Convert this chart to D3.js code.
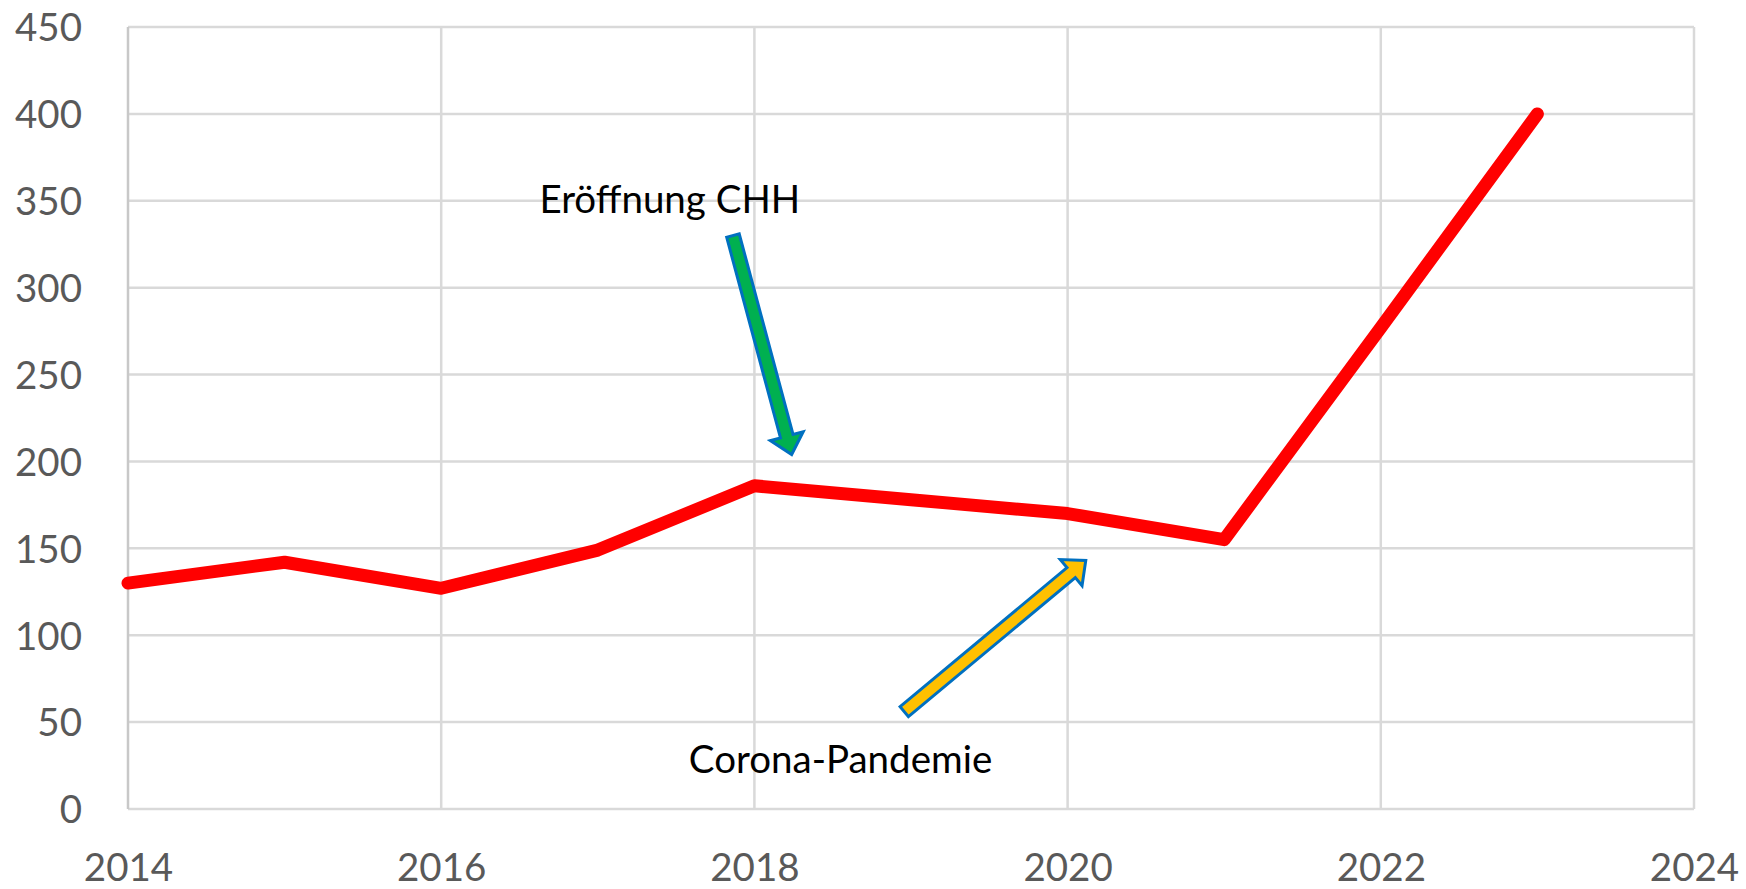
<!DOCTYPE html>
<html>
<head>
<meta charset="utf-8">
<script src="https://cdn.jsdelivr.net/npm/d3@7"></script>
<style>
  body { margin: 0; background: #fff; }
  svg { display: block; }
  .tick text { font-family: Lato, "Open Sans", sans-serif; fill: #595959; }
  .note { font-family: Lato, "Open Sans", sans-serif; fill: #000; }
</style>
</head>
<body>
<svg width="1746" height="889"></svg>
<script>
var svg = d3.select("svg"),
  width = +svg.attr("width"),
  height = +svg.attr("height");

// values
var years = [2014, 2015, 2016, 2017, 2018, 2019, 2020, 2021, 2022, 2023];
var values = [130, 142, 127, 149, 186, 178, 170, 155, 277, 400];

var xTicks = [2014, 2016, 2018, 2020, 2022, 2024];
var yTicks = [0, 50, 100, 150, 200, 250, 300, 350, 400, 450];

// annotations: text and arrow endpoints in data units [year, value]
var noteTexts = ["Eröffnung CHH", "Corona-Pandemie"];
var notePos = [[2017.46, 343], [2018.55, 21]];
var arrowFrom = [[2017.863, 330], [2018.957, 56]];
var arrowTo = [[2018.238, 204], [2020.116, 143]];
var arrowFill = ["#00B050", "#FFC000"];

var x = d3.scaleLinear().domain([2014, 2024]).range([128, 1694]);
var y = d3.scaleLinear().domain([0, 450]).range([809, 27]);

// grid
var grid = svg.append("g").attr("class", "grid");
grid.selectAll("line.h")
  .data(yTicks)
  .enter().append("line")
  .attr("class", "h")
  .attr("x1", x(2014)).attr("x2", x(2024))
  .attr("y1", function(d) { return y(d); })
  .attr("y2", function(d) { return y(d); })
  .attr("stroke", "#d9d9d9")
  .attr("stroke-width", 2.5);

grid.selectAll("line.v")
  .data(xTicks)
  .enter().append("line")
  .attr("class", "v")
  .attr("y1", y(0)).attr("y2", y(450))
  .attr("x1", function(d) { return x(d); })
  .attr("x2", function(d) { return x(d); })
  .attr("stroke", function(d) { return d == 2014 ? "#c8c8c8" : "#d9d9d9"; })
  .attr("stroke-width", 2.5);

// axes (labels only, lines come from the grid)
svg.append("g")
  .attr("transform", "translate(" + x(2014) + ",0)")
  .call(d3.axisLeft(y).tickValues(yTicks).tickSize(0).tickPadding(46))
  .call(function(g) { g.select(".domain").remove(); })
  .selectAll("text")
  .attr("font-size", 38.5)
  .attr("dy", "0.36em");

svg.append("g")
  .attr("transform", "translate(0," + y(0) + ")")
  .call(d3.axisBottom(x).tickValues(xTicks).tickFormat(d3.format("d")).tickSize(0).tickPadding(45))
  .call(function(g) { g.select(".domain").remove(); })
  .selectAll("text")
  .attr("font-size", 38.5);

// series
var line = d3.line()
  .x(function(d, i) { return x(years[i]); })
  .y(function(d) { return y(d); });

svg.append("path")
  .datum(values)
  .attr("fill", "none")
  .attr("stroke", "#ff0000")
  .attr("stroke-width", 13)
  .attr("stroke-linejoin", "round")
  .attr("stroke-linecap", "round")
  .attr("d", line);

// block arrows
function arrowPoints(a, b) {
  var x0 = x(a[0]), y0 = y(a[1]), x1 = x(b[0]), y1 = y(b[1]);
  var dx = x1 - x0, dy = y1 - y0, len = Math.sqrt(dx * dx + dy * dy);
  var ux = dx / len, uy = dy / len, nx = -uy, ny = ux;
  var sw = 6.5, hw = 17, hl = 19;
  var bx = x1 - ux * hl, by = y1 - uy * hl;
  return [
    [x0 + nx * sw, y0 + ny * sw],
    [bx + nx * sw, by + ny * sw],
    [bx + nx * hw, by + ny * hw],
    [x1, y1],
    [bx - nx * hw, by - ny * hw],
    [bx - nx * sw, by - ny * sw],
    [x0 - nx * sw, y0 - ny * sw]
  ];
}

svg.append("g")
  .selectAll("polygon")
  .data(arrowFrom)
  .enter().append("polygon")
  .attr("points", function(d, i) { return arrowPoints(d, arrowTo[i]).join(" "); })
  .attr("fill", function(d, i) { return arrowFill[i]; })
  .attr("stroke", "#0070C0")
  .attr("stroke-width", 3)
  .attr("stroke-linejoin", "miter");

svg.append("g")
  .selectAll("text")
  .data(noteTexts)
  .enter().append("text")
  .attr("class", "note")
  .attr("x", function(d, i) { return x(notePos[i][0]); })
  .attr("y", function(d, i) { return y(notePos[i][1]); })
  .attr("text-anchor", "middle")
  .attr("font-size", 38.5)
  .text(function(d) { return d; });
</script>
</body>
</html>
